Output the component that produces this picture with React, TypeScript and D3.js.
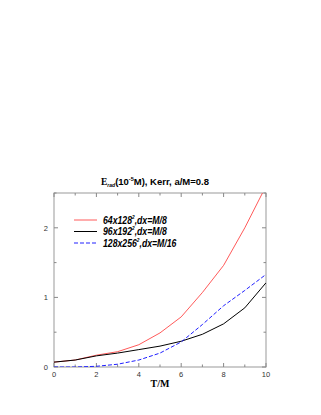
import React, { useEffect, useRef } from "react";
import * as d3 from "d3";

const tValues = [0, 1, 2, 3, 4, 5, 6, 7, 8, 9, 10];
const red64 = [0.07, 0.1, 0.17, 0.22, 0.32, 0.49, 0.72, 1.07, 1.46, 2.0, 2.6];
const black96 = [0.07, 0.1, 0.16, 0.2, 0.25, 0.3, 0.37, 0.47, 0.62, 0.85, 1.21];
const blue128 = [0.0, 0.0, 0.01, 0.04, 0.1, 0.2, 0.36, 0.61, 0.88, 1.1, 1.33];
const xTicks = [0, 2, 4, 6, 8, 10];
const yTicks = [0, 1, 2];

const seriesList = [
  { name: "64x128", sup: "2", tail: ",dx=M/8", values: red64, color: "#ff3030", dash: "", width: 0.8 },
  { name: "96x192", sup: "2", tail: ",dx=M/8", values: black96, color: "#000", dash: "", width: 1 },
  { name: "128x256", sup: "2", tail: ",dx=M/16", values: blue128, color: "#2020ff", dash: "4,2", width: 1 },
];

const App = () => {
  const svgRef = useRef<SVGSVGElement>(null);

  useEffect(() => {
    const root = d3.select(svgRef.current);
    root.selectAll("*").remove();

    const left = 54, right = 266, top = 193, bottom = 367;
    const x = d3.scaleLinear().domain([0, 10]).range([left, right]);
    const y = d3.scaleLinear().domain([0, 2.5]).range([bottom, top]);

    root.append("defs").append("clipPath").attr("id", "plotclip")
      .append("rect").attr("x", left).attr("y", top).attr("width", right - left).attr("height", bottom - top);

    // frame
    root.append("rect")
      .attr("x", left).attr("y", top).attr("width", right - left).attr("height", bottom - top)
      .attr("fill", "none").attr("stroke", "#999").attr("stroke-width", 1);

    const tickColor = "#888";
    // x ticks (major + minor), bottom and top, inward
    d3.range(0, 11).forEach((v) => {
      const len = v % 2 === 0 ? 4 : 2.5;
      root.append("line").attr("x1", x(v)).attr("x2", x(v)).attr("y1", bottom).attr("y2", bottom - len).attr("stroke", tickColor);
      root.append("line").attr("x1", x(v)).attr("x2", x(v)).attr("y1", top).attr("y2", top + len).attr("stroke", tickColor);
    });
    d3.range(0, 2.51, 0.5).forEach((v) => {
      const len = Number.isInteger(v) ? 4 : 2.5;
      root.append("line").attr("y1", y(v)).attr("y2", y(v)).attr("x1", left).attr("x2", left + len).attr("stroke", tickColor);
      root.append("line").attr("y1", y(v)).attr("y2", y(v)).attr("x1", right).attr("x2", right - len).attr("stroke", tickColor);
    });

    root.selectAll(".xt").data(xTicks).enter().append("text")
      .attr("x", (d) => x(d)).attr("y", bottom + 10)
      .attr("text-anchor", "middle").attr("font-family", "Liberation Sans, Arial, sans-serif")
      .attr("font-size", 7.5).attr("fill", "#333").text((d) => d);

    root.selectAll(".yt").data(yTicks).enter().append("text")
      .attr("x", left - 6).attr("y", (d) => y(d) + 3)
      .attr("text-anchor", "end").attr("font-family", "Liberation Sans, Arial, sans-serif")
      .attr("font-size", 7.5).attr("fill", "#333").text((d) => d);

    // axis label
    root.append("text").attr("x", (left + right) / 2).attr("y", 387)
      .attr("text-anchor", "middle").attr("font-family", "Liberation Serif, Times New Roman, serif")
      .attr("font-weight", "bold").attr("font-size", 10).text("T/M");

    // title
    const title = root.append("text").attr("x", 155).attr("y", 185)
      .attr("text-anchor", "middle").attr("font-family", "Liberation Sans, Arial, sans-serif")
      .attr("font-weight", "bold").attr("font-size", 9.5);
    title.append("tspan").attr("font-family", "Liberation Serif, serif").text("E");
    title.append("tspan").attr("font-size", 5).attr("font-style", "italic").attr("dy", 2).text("rad");
    title.append("tspan").attr("dy", -2).text("(10");
    title.append("tspan").attr("font-size", 5.5).attr("dy", -4).text("-5");
    title.append("tspan").attr("dy", 4).text("M), Kerr, a/M=0.8");

    const line = d3.line<number>()
      .x((_, i) => x(tValues[i]))
      .y((d) => y(d));

    const g = root.append("g").attr("clip-path", "url(#plotclip)");
    seriesList.forEach((s) => {
      g.append("path").datum(s.values)
        .attr("fill", "none").attr("stroke", s.color).attr("stroke-width", s.width)
        .attr("stroke-dasharray", s.dash || null).attr("d", line);
    });

    // legend
    seriesList.forEach((s, i) => {
      const ly = 220 + i * 11.5;
      root.append("line").attr("x1", 74).attr("x2", 97).attr("y1", ly).attr("y2", ly)
        .attr("stroke", s.color).attr("stroke-width", s.width).attr("stroke-dasharray", s.dash || null);
      const t = root.append("g").attr("transform", `translate(103,${ly + 3.8}) scale(0.87,1)`)
        .append("text")
        .attr("font-family", "Liberation Sans, Arial, sans-serif").attr("font-style", "italic")
        .attr("font-weight", "bold").attr("font-size", 10);
      t.append("tspan").text(s.name);
      t.append("tspan").attr("font-size", 5.5).attr("dy", -5).text(s.sup);
      t.append("tspan").attr("dy", 5).text(s.tail);
    });
  }, []);

  return (
    <svg ref={svgRef} width={321} height={415}
      style={{ display: "block", position: "absolute", left: 0, top: 0 }}></svg>
  );
};

export default App;
